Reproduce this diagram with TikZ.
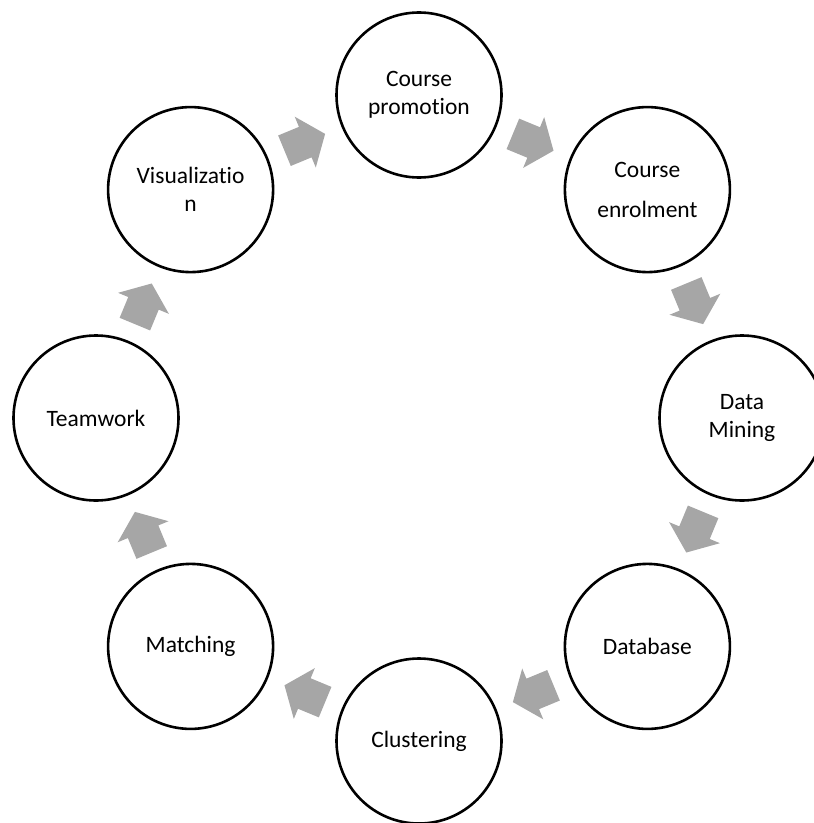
\documentclass[tikz,border=0pt]{standalone}
\usepackage{fontspec}
\setmainfont[Ligatures=NoCommon]{Carlito}
\usetikzlibrary{calc}
\definecolor{arrowgray}{RGB}{166,166,166}
\tikzset{
  stage/.style={circle, draw=black, line width=2.6bp, minimum size=165bp,
    inner sep=0pt, align=center, fill=white,
    font=\fontsize{23.5bp}{28bp}\selectfont},
  blockarrow/.pic={
    \fill[arrowgray] (-22,-16.5) -- (0.5,-16.5) -- (0.5,-27.5) -- (22,0)
      -- (0.5,27.5) -- (0.5,16.5) -- (-22,16.5) -- cycle;
  }
}
\begin{document}
\begin{tikzpicture}[x=1bp,y=-1bp]
  \useasboundingbox (0,0) rectangle (814,823);
  \clip (0,0) rectangle (814,823);
  % eight stages on a ring
  \node[stage] (promo)    at (419,95)       {Course\\promotion};
  \node[stage] (enrol)    at (647.4,189.6)  {Course\\[12bp]enrolment};
  \node[stage] (mining)   at (742,418)      {Data\\Mining};
  \node[stage] (database) at (647.4,646.4)  {Database};
  \node[stage] (cluster)  at (419,741)      {Clustering};
  \node[stage] (matching) at (190.6,646.4)  {Matching};
  \node[stage] (team)     at (96,418)       {Teamwork};
  \node[stage] (visual)   at (190.6,189.6)  {Visualizatio\\n};
  % block arrows between consecutive stages, pointing clockwise
  \foreach \a/\b in {visual/promo, promo/enrol, enrol/mining, mining/database,
                     database/cluster, cluster/matching, matching/team, team/visual}
    \path (\a) -- pic[pos=0.5, sloped, allow upside down] {blockarrow} (\b);
\end{tikzpicture}
\end{document}
